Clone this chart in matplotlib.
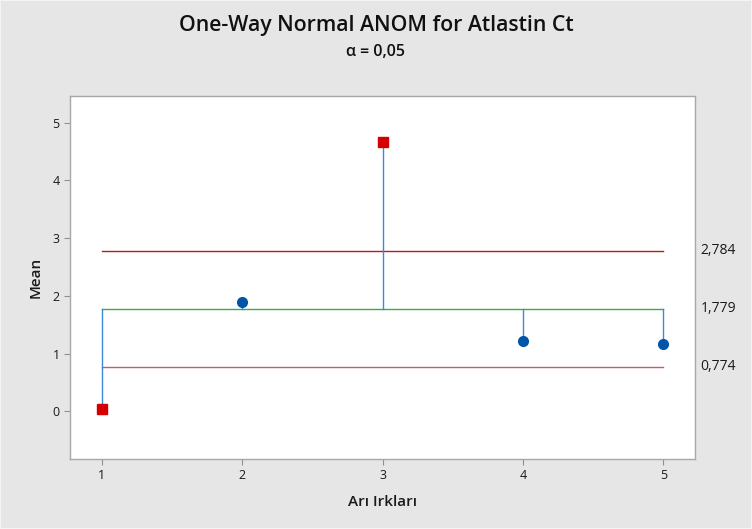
import matplotlib
matplotlib.use("Agg")
import matplotlib.pyplot as plt
from matplotlib.patches import Rectangle

# Group means for each bee race
groups = [1, 2, 3, 4, 5]
means = [0.045, 1.90, 4.67, 1.215, 1.16]
center = 1.779
udl = 2.784
ldl = 0.774
yticks = [0, 1, 2, 3, 4, 5]

plt.rcParams['font.family'] = ['Open Sans', 'DejaVu Sans']

fig = plt.figure(figsize=(7.52, 5.29), dpi=100, facecolor='#E6E6E6')
fig.patches.append(Rectangle((0, 0), 1, 1, transform=fig.transFigure, fill=False,
                             edgecolor='#F4F4F4', lw=1.5))
ax = fig.add_axes([70 / 752, 1 - 459 / 529, (695 - 70) / 752, (459 - 96) / 529])
ax.set_facecolor('white')

lo, hi = groups[0], groups[-1]
ax.plot([lo, hi], [udl, udl], color='#C01818', lw=1.0, zorder=2)
ax.plot([lo, hi], [ldl, ldl], color='#C06060', lw=1.0, zorder=2)
ax.plot([lo, hi], [center, center], color='#3DAA4A', lw=1.0, zorder=2)

for g, m in zip(groups, means):
    ax.plot([g, g], [center, m], color='#3A8AD8', lw=1.0, zorder=3)
    outside = m > udl or m < ldl
    if outside:
        ax.plot(g, m, marker='s', ms=7, color='#D40000', mec='#D40000', zorder=4)
    else:
        ax.plot(g, m, marker='o', ms=7, color='#0055A8', mec='#0055A8', zorder=4)

ax.set_xlim(0.775, 5.225)
ax.set_ylim(-0.825, 5.46)
ax.set_xticks(groups)
ax.set_yticks(yticks)
ax.tick_params(colors='#909090', labelcolor='#1A1A1A', labelsize=9, length=4, width=0.8)
for lab in ax.get_xticklabels() + ax.get_yticklabels():
    lab.set_fontweight('medium')
for s in ax.spines.values():
    s.set_color('#A8A8A8')
    s.set_linewidth(1.0)

for v in (udl, center, ldl):
    ax.annotate(f"{v:.3f}".replace('.', ','), xy=(1.0, v), xycoords=('axes fraction', 'data'),
                xytext=(4, 0), textcoords='offset points', va='center', ha='left',
                fontsize=10, color='#1A1A1A')

ax.set_ylabel('Mean', fontsize=11, fontweight='semibold', color='#1A1A1A', labelpad=7)
ax.set_xlabel('Arı Irkları', fontsize=11, fontweight='semibold', color='#1A1A1A', labelpad=9)

fig.text(0.5, 1 - 26 / 529, 'One-Way Normal ANOM for Atlastin Ct', ha='center', va='center',
         fontsize=15.3, fontweight='semibold', color='#111111')
fig.text(0.5, 1 - 52 / 529, 'α = 0,05', ha='center', va='center',
         fontsize=11.5, fontweight='semibold', color='#111111')

fig.savefig('out.png', dpi=100, facecolor=fig.get_facecolor())
